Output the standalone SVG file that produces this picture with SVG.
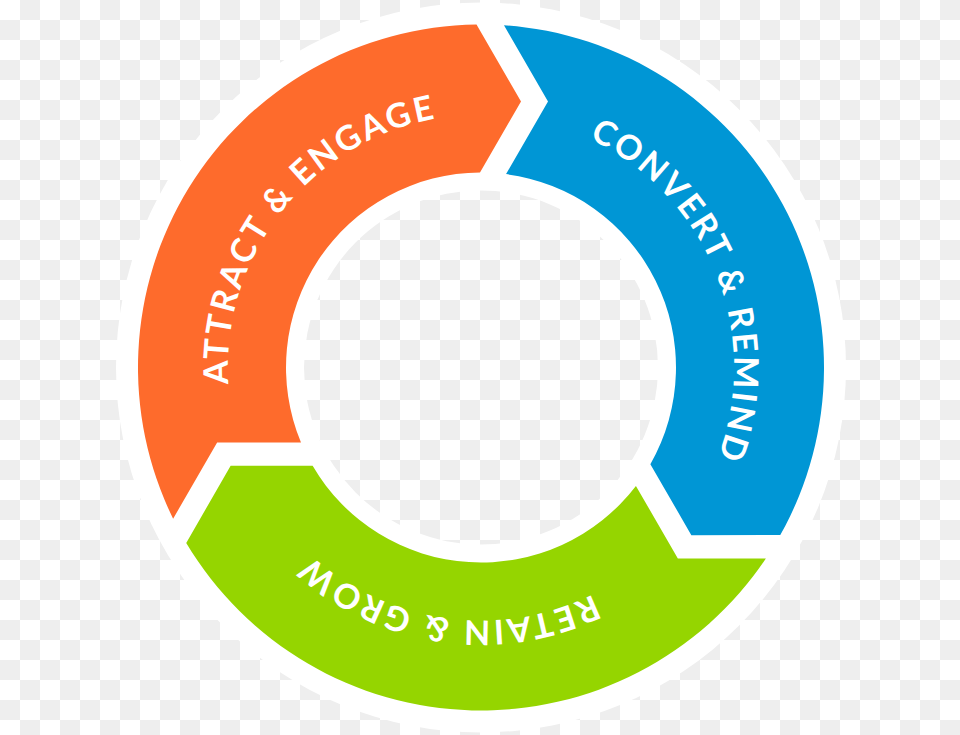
<svg xmlns="http://www.w3.org/2000/svg" xmlns:xlink="http://www.w3.org/1999/xlink" width="960" height="735" viewBox="0 0 960 735">
  <defs>
    <pattern id="checker" width="40" height="40" patternUnits="userSpaceOnUse">
      <rect width="40" height="40" fill="#ffffff"/>
      <rect x="20" y="0" width="20" height="20" fill="#eeeeee"/>
      <rect x="0" y="20" width="20" height="20" fill="#eeeeee"/>
    </pattern>
    <path id="seg" d="M 503.99 25.27 A 343 343 0 0 1 780.27 535.09 L 691.36 535.14 L 650.37 464.13 A 195 195 0 0 0 506.07 174.12 L 548 101.5 Z"/>
    <path id="arcText" d="M 517.09 117.09 A 253 253 0 0 1 679.87 523.94" fill="none"/>
  </defs>
  <style>
    .label { font-family: Lato, "Liberation Sans", sans-serif; font-size: 34px; letter-spacing: 2.7px; fill: #ffffff; font-weight: bold; }
    .orange { fill: #fe6b2c; }
    .blue { fill: #0096d5; }
    .green { fill: #95d500; }
  </style>
  <rect width="960" height="735" fill="url(#checker)"/>
  <path id="ring" d="M 116 367.5 A 365 365 0 1 1 846 367.5 A 365 365 0 1 1 116 367.5 Z M 304 367.5 A 177 177 0 1 0 658 367.5 A 177 177 0 1 0 304 367.5 Z" fill="#ffffff" fill-rule="evenodd"/>
  <g id="connectors"/>
  <g id="attract-engage" transform="rotate(-120 481 367.5)">
    <use xlink:href="#seg" href="#seg" class="orange"/>
    <text class="label"><textPath xlink:href="#arcText" href="#arcText" startOffset="50%" text-anchor="middle">ATTRACT &amp; ENGAGE</textPath></text>
  </g>
  <g id="convert-remind">
    <use xlink:href="#seg" href="#seg" class="blue"/>
    <text class="label"><textPath xlink:href="#arcText" href="#arcText" startOffset="50%" text-anchor="middle">CONVERT &amp; REMIND</textPath></text>
  </g>
  <g id="retain-grow" transform="rotate(120 481 367.5)">
    <use xlink:href="#seg" href="#seg" class="green"/>
    <text class="label"><textPath xlink:href="#arcText" href="#arcText" startOffset="50%" text-anchor="middle">RETAIN &amp; GROW</textPath></text>
  </g>
</svg>
